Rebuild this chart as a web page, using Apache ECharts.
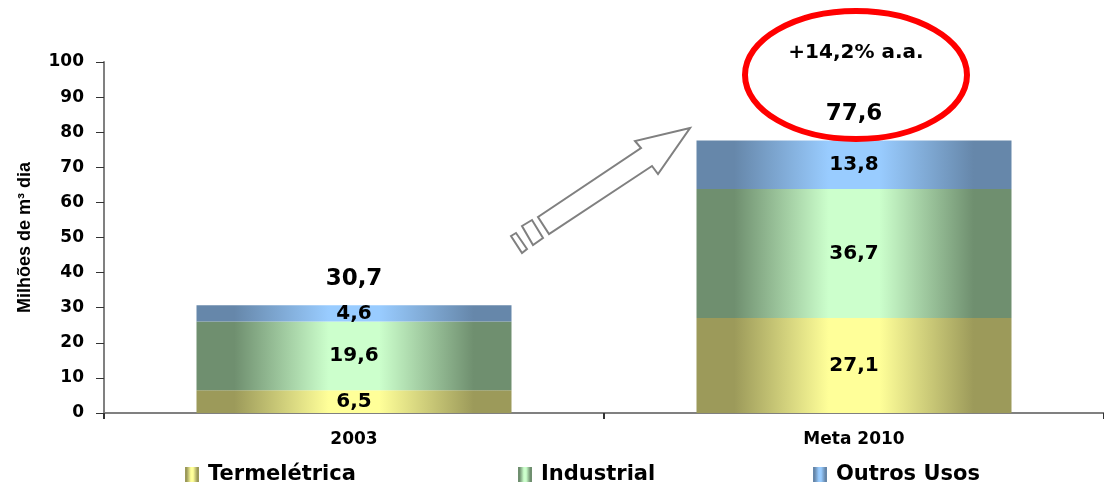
<!DOCTYPE html>
<html>
<head>
<meta charset="utf-8">
<script src="https://cdn.jsdelivr.net/npm/echarts@6/dist/echarts.min.js"></script>
<style>
  html, body { margin: 0; padding: 0; background: #fff; }
  #chart { width: 1104px; height: 486px; }
</style>
</head>
<body>
<div id="chart"></div>
<script>
// dados
const categories = ['2003', 'Meta 2010'];
const termeletrica = [6.5, 27.1];
const industrial = [19.6, 36.7];
const outrosUsos = [4.6, 13.8];
const totais = [30.7, 77.6];
const yTicks = [0, 10, 20, 30, 40, 50, 60, 70, 80, 90, 100];

const WIDE = '"DejaVu Sans", Verdana, sans-serif';
const FONT = '"Liberation Sans", Arial, sans-serif';

function grad(edge, mid) {
  return new echarts.graphic.LinearGradient(0, 0, 1, 0, [
    { offset: 0, color: edge },
    { offset: 0.12, color: edge },
    { offset: 0.42, color: mid },
    { offset: 0.58, color: mid },
    { offset: 0.88, color: edge },
    { offset: 1, color: edge }
  ]);
}

const fmt = v => String(v).replace('.', ',');

function barSeries(name, data, edge, mid) {
  return {
    name: name,
    type: 'bar',
    stack: 'total',
    barWidth: 315,
    data: data,
    itemStyle: { color: grad(edge, mid) },
    label: {
      show: true,
      position: 'inside',
      color: '#000',
      fontFamily: WIDE,
      fontWeight: 'bold',
      fontSize: 20,
      formatter: p => fmt(p.value)
    }
  };
}

const chart = echarts.init(document.getElementById('chart'), null, { renderer: 'canvas' });

const legendText = { fontFamily: WIDE, fontWeight: 'bold', fontSize: 21, color: '#000', padding: [0, 0, 0, 4] };
function legendAt(name, left) {
  return { data: [name], left: left, top: 459, icon: 'rect', itemWidth: 14, itemHeight: 15, textStyle: legendText };
}

const option = {
  animation: false,
  grid: { left: 104, right: -4, top: 62, bottom: 73 },
  legend: [
    legendAt('Termelétrica', 180),
    legendAt('Industrial', 513),
    legendAt('Outros Usos', 808)
  ],
  xAxis: {
    type: 'category',
    data: categories,
    axisLine: { lineStyle: { color: '#808080', width: 2 } },
    axisTick: { show: true, length: 6, lineStyle: { color: '#333', width: 2 } },
    axisLabel: { color: '#000', fontFamily: WIDE, fontWeight: 'bold', fontSize: 17, margin: 18 }
  },
  yAxis: {
    type: 'value',
    min: 0,
    max: 100,
    interval: 10,
    name: 'Milhões de m³ dia',
    nameLocation: 'middle',
    nameGap: 70,
    nameTextStyle: { color: '#000', fontFamily: FONT, fontWeight: 'bold', fontSize: 18 },
    splitLine: { show: false },
    axisLine: { show: true, lineStyle: { color: '#808080', width: 2 } },
    axisTick: { show: true, length: 8, lineStyle: { color: '#333', width: 1 } },
    axisLabel: {
      color: '#000', fontFamily: WIDE, fontWeight: 'bold', fontSize: 17, margin: 20,
      formatter: v => (yTicks.indexOf(v) >= 0 ? String(v) : '')
    }
  },
  series: [
    barSeries('Termelétrica', termeletrica, '#9c9a5a', '#ffff99'),
    barSeries('Industrial', industrial, '#6f8f6f', '#ccffcc'),
    barSeries('Outros Usos', outrosUsos, '#6687aa', '#99ccff'),
    {
      name: 'total',
      type: 'scatter',
      data: totais,
      symbolSize: 2,
      itemStyle: { color: 'rgba(0,0,0,0)' },
      silent: true,
      z: 10,
      label: {
        show: true,
        position: 'top',
        distance: 14,
        color: '#000000',
        opacity: 1,
        fontFamily: WIDE,
        fontWeight: 'bold',
        fontSize: 23,
        formatter: p => fmt(p.value)
      }
    }
  ],
  graphic: [
    {
      type: 'ellipse',
      shape: { cx: 856, cy: 75, rx: 111, ry: 64 },
      style: { fill: 'none', stroke: '#ff0000', lineWidth: 6 },
      z: 100
    },
    {
      type: 'text',
      style: {
        x: 856, y: 53, text: '+14,2% a.a.', fill: '#000',
        font: 'bold 20px ' + WIDE, align: 'center', verticalAlign: 'middle'
      },
      z: 100
    },
    {
      type: 'polygon',
      shape: { points: [[690, 128], [635, 141], [641, 148], [538, 217], [549, 234], [652, 166], [658, 174]] },
      style: { fill: '#fff', stroke: '#808080', lineWidth: 2 },
      z: 50
    },
    {
      type: 'polygon',
      shape: { points: [[522, 226], [532, 220], [543, 238], [533, 245]] },
      style: { fill: '#fff', stroke: '#808080', lineWidth: 2 },
      z: 50
    },
    {
      type: 'polygon',
      shape: { points: [[511, 236], [516, 233], [527, 249], [522, 253]] },
      style: { fill: '#fff', stroke: '#808080', lineWidth: 2 },
      z: 50
    }
  ]
};

chart.setOption(option);
</script>
</body>
</html>
